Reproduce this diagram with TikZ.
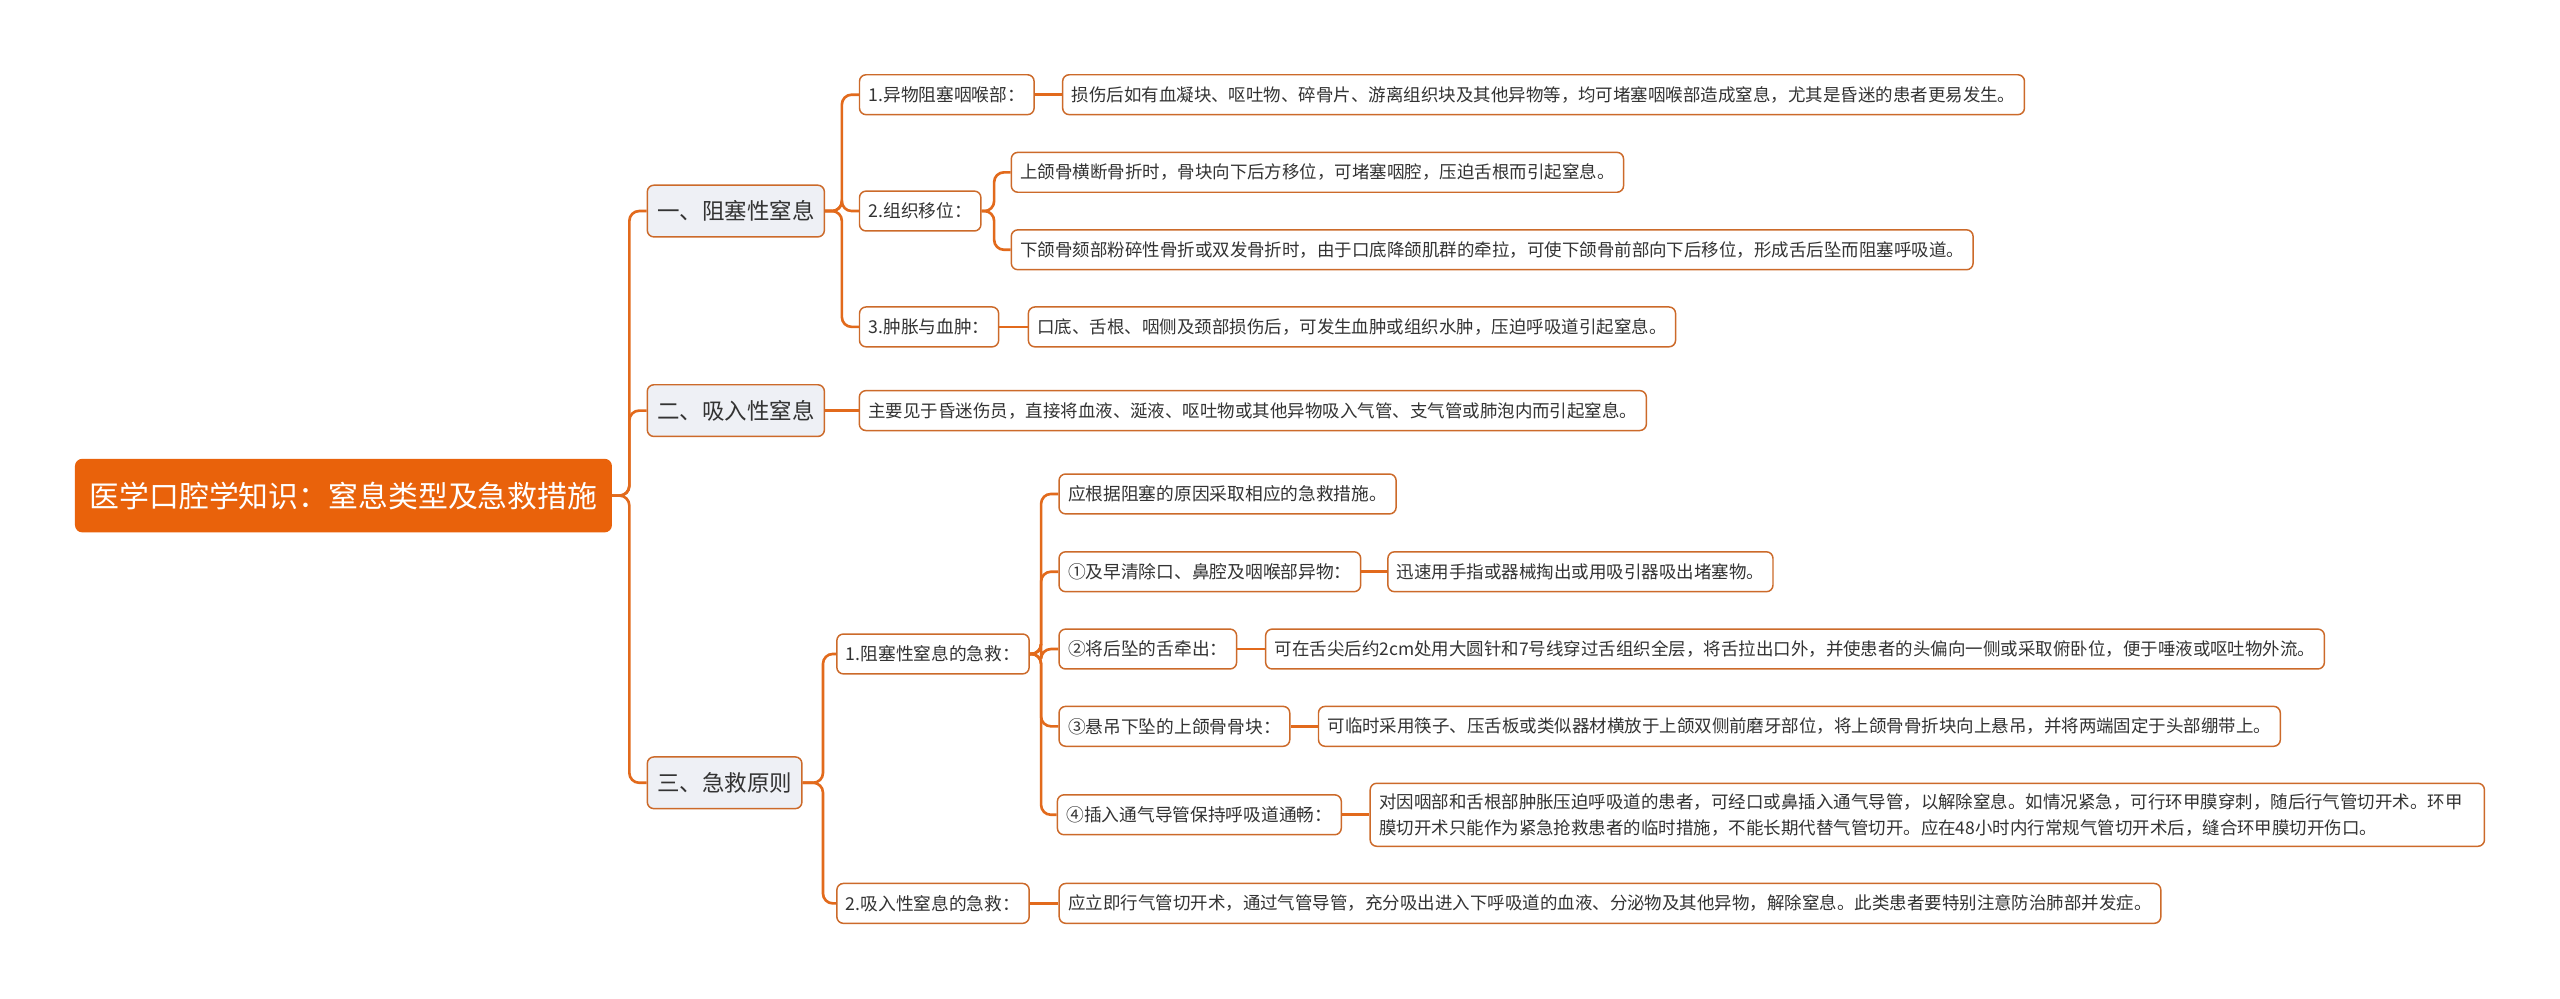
\documentclass[tikz,border=0pt]{standalone}
\usepackage{fontspec}
\setmainfont{Noto Sans CJK SC}
\definecolor{rootfill}{HTML}{E9620B}
\definecolor{lineor}{HTML}{E26A1C}
\definecolor{bord}{HTML}{CC6A2A}
\definecolor{lvfill}{HTML}{EEF0F5}
\definecolor{txt}{HTML}{333333}
\begin{document}
\begin{tikzpicture}[x=1pt,y=-1pt,
  rootbox/.style={draw=rootfill, fill=rootfill, rounded corners=4pt, text=white,
    font=\fontsize{18.2}{20}\selectfont, inner xsep=8.5pt, minimum height=44pt, anchor=west, line width=0.8pt},
  lonebox/.style={draw=bord, fill=lvfill, rounded corners=4pt, text=txt,
    font=\fontsize{13.7}{16}\selectfont, inner xsep=6pt, minimum height=31.5pt, anchor=west, line width=0.9pt},
  leafbox/.style={draw=bord, fill=white, rounded corners=4pt, text=txt,
    font=\fontsize{10.65}{16}\selectfont, inner xsep=5.5pt, minimum height=24.3pt, anchor=west, line width=0.9pt},
  midbox/.style={leafbox, font=\fontsize{10.8}{16}\selectfont},
  conn/.style={draw=lineor, line width=1.6pt, rounded corners=6pt},
]
\useasboundingbox (0,0) rectangle (1560,608.2);
\fill[white] (0,0) rectangle (1560,608.2);

% branch x positions
\coordinate (bR) at (383.5,0);
\coordinate (bA) at (513,0);
\coordinate (bAt) at (605.8,0);
\coordinate (bC) at (501.5,0);
\coordinate (bCo) at (634.4,0);

% root
\node[rootbox] (root) at (45.7,302) {医学口腔学知识：窒息类型及急救措施};

% level 1
\node[lonebox] (A) at (394,128.6) {一、阻塞性窒息};
\node[lonebox] (B) at (394,250.2) {二、吸入性窒息};
\node[lonebox] (C) at (394,477) {三、急救原则};

% under A
\node[midbox] (A1) at (523.3,57.7) {1.异物阻塞咽喉部：};
\node[midbox] (A2) at (523.3,128.6) {2.组织移位：};
\node[midbox] (A3) at (523.3,199.2) {3.肿胀与血肿：};
\node[leafbox] (A1x) at (647.1,57.7) {损伤后如有血凝块、呕吐物、碎骨片、游离组织块及其他异物等，均可堵塞咽喉部造成窒息，尤其是昏迷的患者更易发生。};
\node[leafbox] (A2a) at (615.8,105) {上颌骨横断骨折时，骨块向下后方移位，可堵塞咽腔，压迫舌根而引起窒息。};
\node[leafbox] (A2b) at (615.8,152.2) {下颌骨颏部粉碎性骨折或双发骨折时，由于口底降颌肌群的牵拉，可使下颌骨前部向下后移位，形成舌后坠而阻塞呼吸道。};
\node[leafbox] (A3x) at (626.2,199.2) {口底、舌根、咽侧及颈部损伤后，可发生血肿或组织水肿，压迫呼吸道引起窒息。};

% under B
\node[leafbox] (Bx) at (523.2,250.2) {主要见于昏迷伤员，直接将血液、涎液、呕吐物或其他异物吸入气管、支气管或肺泡内而引起窒息。};

% under C
\node[midbox] (C1) at (509.5,398.5) {1.阻塞性窒息的急救：};
\node[midbox] (C2) at (509.5,550.5) {2.吸入性窒息的急救：};
\node[midbox] (C1a) at (644.9,301) {应根据阻塞的原因采取相应的急救措施。};
\node[midbox] (C1b) at (644.9,348.4) {①及早清除口、鼻腔及咽喉部异物：};
\node[midbox] (C1c) at (644.9,395.5) {②将后坠的舌牵出：};
\node[midbox] (C1d) at (644.9,442.6) {③悬吊下坠的上颌骨骨块：};
\node[midbox] (C1e) at (643.9,496.5) {④插入通气导管保持呼吸道通畅：};
\node[leafbox] (C1bx) at (845.3,348.4) {迅速用手指或器械掏出或用吸引器吸出堵塞物。};
\node[leafbox] (C1cx) at (770.8,395.5) {可在舌尖后约2cm处用大圆针和7号线穿过舌组织全层，将舌拉出口外，并使患者的头偏向一侧或采取俯卧位，便于唾液或呕吐物外流。};
\node[leafbox] (C1dx) at (803,442.6) {可临时采用筷子、压舌板或类似器材横放于上颌双侧前磨牙部位，将上颌骨骨折块向上悬吊，并将两端固定于头部绷带上。};
\node[leafbox, minimum height=38.4pt, text width=668pt, align=left] (C1ex) at (834.5,496.5)
  {对因咽部和舌根部肿胀压迫呼吸道的患者，可经口或鼻插入通气导管，以解除窒息。如情况紧急，可行环甲膜穿刺，随后行气管切开术。环甲\\膜切开术只能作为紧急抢救患者的临时措施，不能长期代替气管切开。应在48小时内行常规气管切开术后，缝合环甲膜切开伤口。};
\node[leafbox] (C2x) at (645,550.5) {应立即行气管切开术，通过气管导管，充分吸出进入下呼吸道的血液、分泌物及其他异物，解除窒息。此类患者要特别注意防治肺部并发症。};

% connectors
\foreach \c in {A,B,C} \draw[conn] (root.east) -- (root.east -| bR) |- (\c.west);
\foreach \c in {A1,A2,A3} \draw[conn] (A.east) -- (A.east -| bA) |- (\c.west);
\foreach \c in {A2a,A2b} \draw[conn] (A2.east) -- (A2.east -| bAt) |- (\c.west);
\draw[conn] (A1.east) -- (A1x.west);
\draw[conn] (A3.east) -- (A3x.west);
\draw[conn] (B.east) -- (Bx.west);
\foreach \c in {C1,C2} \draw[conn] (C.east) -- (C.east -| bC) |- (\c.west);
\foreach \c in {C1a,C1b,C1c,C1d,C1e} \draw[conn] (C1.east) -- (C1.east -| bCo) |- (\c.west);
\draw[conn] (C1b.east) -- (C1bx.west);
\draw[conn] (C1c.east) -- (C1cx.west);
\draw[conn] (C1d.east) -- (C1dx.west);
\draw[conn] (C1e.east) -- (C1ex.west);
\draw[conn] (C2.east) -- (C2x.west);
\end{tikzpicture}
\end{document}
